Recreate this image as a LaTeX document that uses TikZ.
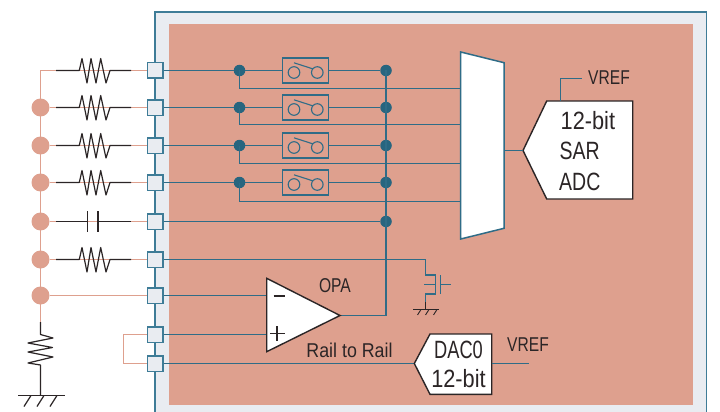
\documentclass[tikz,border=0pt]{standalone}
\usepackage{fontspec}
\setmainfont[FakeStretch=0.78]{Liberation Sans}
\newfontfamily\midfont[FakeStretch=0.87]{Liberation Sans}
\newfontfamily\railfont[FakeStretch=0.89]{Liberation Sans}
\newfontfamily\dacfont[FakeStretch=0.73]{Liberation Sans}
\definecolor{teal1}{HTML}{2F6C87}
\definecolor{tealdot}{HTML}{27657F}
\definecolor{edgeblue}{HTML}{3E7C97}
\definecolor{panel}{HTML}{E9ECF1}
\definecolor{salmon}{HTML}{DEA08E}
\definecolor{ink}{HTML}{2B2526}
\tikzset{
  wire/.style={draw=teal1,line width=1.6pt},
  ext/.style={draw=salmon,line width=1.8pt},
  blk/.style={draw=ink,line width=1.2pt},
  pad/.style={draw=edgeblue,line width=1.5pt,fill=panel,minimum size=15.5pt,inner sep=0pt,rectangle},
  jdot/.style={circle,fill=tealdot,minimum size=11.5pt,inner sep=0pt},
  sdot/.style={circle,fill=salmon,minimum size=18pt,inner sep=0pt},
  swbox/.style={draw=teal1,line width=1.4pt,minimum width=45.5pt,minimum height=25pt,inner sep=0pt,rectangle},
  lbl/.style={text=ink,font=\fontsize{20}{20}\selectfont,inner sep=0pt},
  biglbl/.style={text=ink,font=\fontsize{25}{25}\selectfont,inner sep=0pt},
  midlbl/.style={text=ink,font=\midfont\fontsize{25}{25}\selectfont,inner sep=0pt},
  white block/.style={draw=ink,line width=1.4pt,fill=white,line join=miter},
}
\begin{document}
\begin{tikzpicture}[x=1pt,y=-1pt]
\useasboundingbox (0,0) rectangle (720,412);
\fill[white] (0,0) rectangle (720,412);
\fill[panel] (155,12) rectangle (706.5,412);
\draw[edgeblue,line width=1.5pt] (155,412) -- (155,12) -- (706.5,12) -- (706.5,412);
\fill[salmon] (169,24) rectangle (693,405);

% pads
\foreach \n/\y in {1/70.5,2/107.5,3/145.5,4/182.5,5/221.5,6/259.5,7/295.5,8/334.5,9/363.5}{
  \node[pad] (p\n) at (155,\y) {};
}
% left bus
\coordinate (bt) at (40.5,70.5);
\coordinate (bb) at (40.5,322);
\draw[ext] (p1.west) -- (bt) -- (bb);
\foreach \n/\y in {2/107.5,3/145.5,4/182.5,5/221.5,6/259.5,7/295.5}{
  \node[sdot] (s\n) at (40.5,\y) {};
}
\foreach \n in {2,3,4,5,6,7}{ \draw[ext] (s\n) -- (p\n.west); }
% resistors
\foreach \y in {70.5,107.5,145.5,182.5,259.5}{
  \draw[blk,line join=round] (56,\y) -- (79.3,\y) -- (82,\y-12) -- (87,\y+12.5) -- (91,\y-12) -- (96,\y+12.5) -- (100.7,\y-12) -- (106,\y+12.5) -- (110,\y) -- (131,\y);
}
% capacitor
\draw[blk] (56,221.5) -- (87.5,221.5) (87.5,211) -- (87.5,232) (98,211) -- (98,232) (98,221.5) -- (131,221.5);
% vertical resistor and ground
\draw[blk,line join=round] (bb) -- (40.5,334.5) -- (53,338) -- (28,343) -- (52.5,347.5) -- (28,352) -- (53,357) -- (28,363) -- (40.5,365) -- (40.5,395.5);
\draw[blk] (18,395.5) -- (64.5,395.5);
\foreach \x in {31,44,57}{ \draw[blk] (\x,395.5) -- (\x-7,406.5); }
% loop
\draw[ext] (p8.west) -- (123.5,334.5) -- (123.5,363.5) -- (p9.west);

% junctions
\foreach \n/\y/\b in {1/70.5/88.5,2/107.5/124.5,3/145.5/163.5,4/182.5/201.5}{
  \node[jdot] (a\n) at (239.5,\y) {};
  \node[jdot] (c\n) at (386,\y) {};
  \node[swbox] (w\n) at (305.5,\y) {};
  \draw[wire] (p\n.east) -- (a\n);
  \draw[wire] (a\n) -- (w\n.west) (w\n.east) -- (c\n);
  \draw[wire] (a\n.center) -- (239.5,\b) -- (460.5,\b);
  \draw[wire,line width=1.1pt] (294,\y+2) circle (5.8) (317.3,\y+2) circle (5.8);
  \draw[wire,line width=1.1pt] (294,\y-7.7) -- (312.7,\y-1.7);
}
\node[jdot] (c5) at (386,221.5) {};
\draw[wire] (p5.east) -- (c5);
\draw[wire] (c1.center) -- (386,315.5);

% row 6 and external cap
\coordinate (k1) at (425.5,259.5);
\draw[wire,line join=miter] (p6.east) -- (k1) -- (425.5,275) -- (435.5,275) -- (435.5,294) -- (425.5,294) -- (425.5,302);
\draw[wire] (424,284.5) -- (435.5,284.5);
\draw[wire] (440.5,275) -- (440.5,294) (440.5,284.5) -- (450.7,284.5);
\draw[blk,line width=1.6pt] (425.5,302) -- (425.5,309);
\draw[blk,line width=1pt] (413,309.5) -- (439,309.5);
\foreach \x in {421,429,437}{ \draw[blk,line width=0.9pt] (\x,309.5) -- (\x-3.5,315); }

% mux
\path[draw=teal1,line width=1.5pt,fill=white] (460.7,52) -- (504,62.7) -- (504,228.3) -- (460.7,239) -- cycle;
% ADC
\coordinate (adcT) at (523,150.5);
\draw[white block] (adcT) -- (546.7,101) -- (632.7,101) -- (632.7,199) -- (546.7,199) -- cycle;
\draw[wire] (504,150.5) -- (adcT);
\draw[wire] (560.5,100.5) -- (560.5,78.5) -- (582,78.5);
\node[lbl,anchor=west] (vref1) at (588,78) {VREF};
\node[midlbl,anchor=west] (a1t) at (560.5,121) {12-bit};
\node[biglbl,anchor=west] (a2t) at (559.5,151) {SAR};
\node[biglbl,anchor=west] (a3t) at (559,182) {ADC};

% op amp
\draw[wire] (p7.east) -- (266.7,295.5);
\draw[wire] (p8.east) -- (266.7,334.5);
\draw[wire] (340,315.5) -- (386,315.5);
\draw[white block] (266.7,278.3) -- (340,315.5) -- (266.7,351.7) -- cycle;
\draw[ink,line width=1.6pt] (273.5,296) -- (285,296);
\draw[ink,line width=1.6pt] (270,333.5) -- (284.5,333.5) (277.2,326) -- (277.2,341);
\node[lbl] (opa) at (335,286) {OPA};
\node[lbl,font=\railfont\fontsize{20}{20}\selectfont] (rail) at (349.5,350) {Rail to Rail};

% DAC
\draw[wire] (p9.east) -- (414.3,363.5);
\draw[white block] (414.3,363.5) -- (430,334) -- (491.7,334) -- (491.7,394.3) -- (430,394.3) -- cycle;
\draw[wire] (491.7,363.5) -- (529,363.5);
\node[biglbl,font=\dacfont\fontsize{25}{25}\selectfont] (d1) at (458.5,350) {DAC0};
\node[midlbl] (d2) at (458.5,379) {12-bit};
\node[lbl] (vref2) at (528,345) {VREF};
\end{tikzpicture}
\end{document}
